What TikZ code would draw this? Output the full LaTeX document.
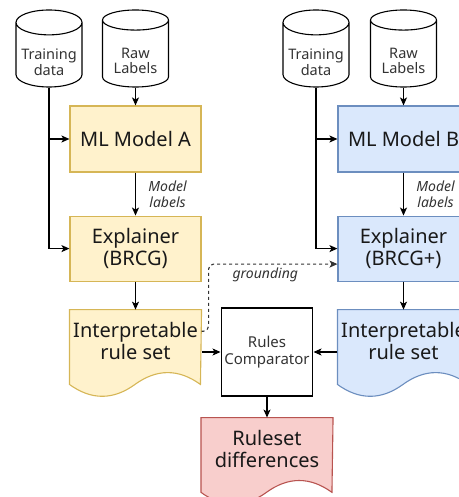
\documentclass[tikz,border=0pt]{standalone}
\usepackage{fontspec}
\setmainfont{Noto Sans}
\usetikzlibrary{shapes.geometric, arrows.meta, positioning, calc, backgrounds}

\definecolor{yelFill}{HTML}{FFF2CC}
\definecolor{yelLine}{HTML}{D6B656}
\definecolor{bluFill}{HTML}{DAE8FC}
\definecolor{bluLine}{HTML}{6C8EBF}
\definecolor{redFill}{HTML}{F8CECC}
\definecolor{redLine}{HTML}{B85450}
\definecolor{txtGray}{HTML}{333333}

\newcommand{\bigfont}{\fontsize{20}{22.5}\selectfont}
\newcommand{\smallfont}{\fontsize{14.5}{15.5}\selectfont}
\newcommand{\midfont}{\fontsize{15}{17}\selectfont}
\newcommand{\labelfont}{\fontsize{14}{16}\selectfont\itshape}
\newcommand{\cyltop}{\rule{0pt}{20pt}}

% wavy outline of a document node (#1 = node, #2 = fill, #3 = line)
\newcommand{\docshape}[3]{%
	\path[fill=#2, draw=#3, line width=1.1pt]
	(#1.north west) -- (#1.north east) -- ($(#1.north west)+(131,74.8)$)
	.. controls ($(#1.north west)+(109.2,59)$) and ($(#1.north west)+(87.3,59)$) .. ($(#1.north west)+(65.5,74.8)$)
	.. controls ($(#1.north west)+(43.7,90.6)$) and ($(#1.north west)+(21.8,90.6)$) .. ($(#1.north west)+(0,74.8)$)
	-- cycle;}

\begin{document}
\begin{tikzpicture}[
		x=1pt, y=-1pt,
		line width=1.1pt,
		>={Stealth[length=8pt, width=7pt, inset=2pt]}
	]
	\tikzstyle{Box} = [ %plain box of the flow
		rectangle,
		draw,
		minimum width=131pt,
		minimum height=66pt,
		align=center,
		font=\bigfont,
		text=black!90
	]
	\tikzstyle{Cyl} = [
		cylinder,
		shape border rotate=90,
		aspect=0.4,
		draw,
		fill=white,
		minimum width=66pt,
		minimum height=77pt,
		align=center,
		font=\smallfont,
		text=txtGray,
		anchor=shape center
	]
	\tikzstyle{Doc} = [
		rectangle,
		minimum width=131pt,
		minimum height=62pt,
		inner sep=0pt,
		align=center,
		font=\bigfont,
		text=black!90
	]
	\tikzstyle{Lbl} = [font=\labelfont, text=txtGray, align=center]

	\useasboundingbox (0,0) rectangle (458,497);

	% model A
	\node (tdA) [Cyl] at (49,48.5) {\cyltop Training\\data};
	\node (rlA) [Cyl] at (135.5,48.5) {\cyltop Raw\\Labels};
	\node (mA) [Box, fill=yelFill, draw=yelLine] at (135.5,139) {ML Model A};
	\node (eA) [Box, fill=yelFill, draw=yelLine, minimum height=65pt, below = 43pt of mA] {Explainer\\(BRCG)};
	\node (rA) [Doc, below = 28pt of eA] {Interpretable\\rule set};

	% model B
	\node (tdB) [Cyl] at (316,48.5) {\cyltop Training\\data};
	\node (rlB) [Cyl] at (403.5,48.5) {\cyltop Raw\\Labels};
	\node (mB) [Box, fill=bluFill, draw=bluLine] at (403.5,139) {ML Model B};
	\node (eB) [Box, fill=bluFill, draw=bluLine, minimum height=65pt, below = 43pt of mB] {Explainer\\(BRCG+)};
	\node (rB) [Doc, below = 28pt of eB] {Interpretable\\rule set};

	% comparison
	\node (cmp) [Box, minimum width=88pt, minimum height=88pt, font=\midfont, text=txtGray] at (267,352) {Rules\\Comparator};
	\node (dif) [Doc, below = 21pt of cmp.south, anchor=north] {Ruleset\\differences};

	\begin{scope}[on background layer]
		\docshape{rA}{yelFill}{yelLine}
		\docshape{rB}{bluFill}{bluLine}
		\docshape{dif}{redFill}{redLine}
	\end{scope}

	\draw[->] (tdA.south) |- (mA.west);
	\draw[->] (tdA.south) |- (eA.west);
	\draw[->] (rlA.south) -- (mA.north);
	\draw[->] (mA) -- node [Lbl, right = 9pt] {Model\\labels} (eA);
	\draw[->] (eA) -- (rA.north);

	\draw[->] (tdB.south) |- (mB.west);
	\draw[->] (tdB.south) |- (eB.west);
	\draw[->] (rlB.south) -- (mB.north);
	\draw[->] (mB) -- node [Lbl, right = 9pt] {Model\\labels} (eB);
	\draw[->] (eB) -- (rB.north);

	\draw[->] (cmp.west -| rA.east) -- (cmp.west);
	\draw[->] (cmp.east -| rB.west) -- (cmp.east);
	\draw[->] (cmp) -- (dif.north);

	\coordinate (gr) at ($(rA.east)+(7,-10)$);
	\draw[->, dashed, dash pattern=on 3pt off 3pt, rounded corners=5pt, txtGray]
		([yshift=10pt]rA.east) -- (gr) |- ([yshift=-15.5pt]eB.west)
		node [Lbl, pos=0.72, below] {grounding};
\end{tikzpicture}
\end{document}
